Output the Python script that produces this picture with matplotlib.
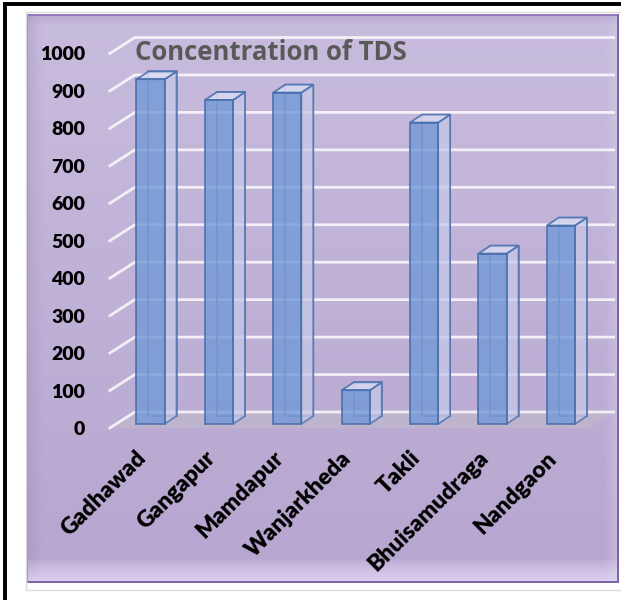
import numpy as np
import matplotlib
matplotlib.use("Agg")
import matplotlib.pyplot as plt
from matplotlib.patches import Polygon, Rectangle

# ---- data ----
categories = ["Gadhawad", "Gangapur", "Mamdapur", "Wanjarkheda", "Takli",
              "Bhuisamudraga", "Nandgaon"]
tds_values = [920, 865, 885, 90, 805, 455, 530]
y_ticks = [0, 100, 200, 300, 400, 500, 600, 700, 800, 900, 1000]
title_text = "Concentration of TDS"

W, H = 621, 600
fig = plt.figure(figsize=(W / 100, H / 100), dpi=100)
fig.patch.set_facecolor("white")

# ---- background panel ----
bg = fig.add_axes([0, 0, 1, 1], zorder=0)
bg.set_xlim(0, W)
bg.set_ylim(H, 0)
bg.axis("off")

px0, py0, px1, py1 = 27, 14, 619, 583
ph, pw = py1 - py0, px1 - px0
t = np.linspace(0, 1, ph)[:, None]
top_c = np.array([200, 188, 221]) / 255
bot_c = np.array([183, 166, 208]) / 255
img = top_c[None, None, :] * (1 - t[..., None]) + bot_c[None, None, :] * t[..., None]
img = np.broadcast_to(img, (ph, pw, 3)).copy()
# left dark bevel
for k in range(16):
    a = (1 - k / 16) * 0.25
    img[:, k] = img[:, k] * (1 - a) + np.array([140, 120, 175]) / 255 * a
# right light bevel
for k in range(14):
    a = (1 - k / 14) * 0.35
    img[:, pw - 1 - k] = img[:, pw - 1 - k] * (1 - a) + np.array([225, 215, 240]) / 255 * a
# top darker band
for k in range(12):
    a = (1 - k / 12) * 0.35
    img[k] = img[k] * (1 - a) + np.array([160, 140, 190]) / 255 * a
# bottom light bevel
for k in range(24):
    a = (1 - k / 24) ** 0.7 * 0.7
    img[ph - 1 - k] = img[ph - 1 - k] * (1 - a) + np.array([236, 226, 252]) / 255 * a
# edges
img[:2] = np.array([150, 120, 190]) / 255
img[-2:] = np.array([125, 100, 165]) / 255
img[:, -2:] = np.array([125, 100, 165]) / 255
img[:, :1] = np.array([170, 150, 200]) / 255
bg.imshow(img, extent=(px0, px1, py1, py0), aspect="auto", zorder=1)

# outer frame lines
bg.add_patch(Rectangle((26, 12), 596, 578, fill=False, ec="#dcdcdc", lw=1, zorder=0.5))
bg.plot([3, W], [4, 4], color="black", lw=2.8, zorder=5, solid_capstyle="butt")
bg.plot([4.5, 4.5], [3, H], color="black", lw=2.8, zorder=5, solid_capstyle="butt")

# ---- main axes (front plane) ----
ax_l, ax_r = 109.8, 588.6
ax_t, ax_b = 53.5, 428
ax = fig.add_axes([ax_l / W, 1 - ax_b / H, (ax_r - ax_l) / W, (ax_b - ax_t) / H], zorder=2)
ax.patch.set_alpha(0)
n = len(categories)
ax.set_xlim(-0.5, n - 0.5)
ax.set_ylim(0, 1000)
for s in ax.spines.values():
    s.set_visible(False)

px_per_cat = (ax_r - ax_l) / n
px_per_val = (ax_b - ax_t) / 1000.0

def off(dx_px, dy_px):
    return dx_px / px_per_cat, dy_px / px_per_val

wall = off(25, 16)
bfront = off(6.5, 4)
bback = off(18.5, 12)

xs = np.arange(n)

# floor
floor = Polygon([(-0.5, 0), (n - 0.5, 0), (n - 0.5 + wall[0], wall[1]),
                 (-0.5 + wall[0], wall[1])], closed=True,
                fc=(0.76, 0.72, 0.80), ec="none", alpha=0.7, zorder=1, clip_on=False)
ax.add_patch(floor)

# gridlines
for v in y_ticks:
    ax.plot([-0.5, -0.5 + wall[0], n - 0.5 + wall[0]], [v, v + wall[1], v + wall[1]],
            color="white", lw=2, alpha=0.8, zorder=1.5, clip_on=False,
            solid_joinstyle="miter")

# bars
bw = 0.41
edge = (0.27, 0.43, 0.68)
face = (0.45, 0.60, 0.84)
ax.bar(xs + bback[0], tds_values, width=bw, bottom=bback[1], color="none",
       edgecolor=edge, lw=1.1, alpha=0.7, zorder=3, clip_on=False)
for i, v in enumerate(tds_values):
    xl = xs[i] - bw / 2 + bfront[0]
    xr = xs[i] + bw / 2 + bfront[0]
    yb = bfront[1]
    yt = v + bfront[1]
    ddx = bback[0] - bfront[0]
    ddy = bback[1] - bfront[1]
    side = Polygon([(xr, yb), (xr, yt), (xr + ddx, yt + ddy), (xr + ddx, yb + ddy)],
                   closed=True, fc=(0.78, 0.78, 0.90), ec=edge, lw=1.3, alpha=0.75,
                   zorder=3.5, clip_on=False)
    ax.add_patch(side)
    top = Polygon([(xl, yt), (xr, yt), (xr + ddx, yt + ddy), (xl + ddx, yt + ddy)],
                  closed=True, fc=(0.85, 0.85, 0.95), ec=edge, lw=1.3, alpha=0.85,
                  zorder=3.6, clip_on=False)
    ax.add_patch(top)
ax.bar(xs + bfront[0], tds_values, width=bw, bottom=bfront[1], color=face,
       alpha=0.8, edgecolor=edge, lw=1.4, zorder=4, clip_on=False)

# ticks
ax.set_yticks(y_ticks)
ax.set_yticklabels([str(v) for v in y_ticks], fontfamily="Lato", fontweight="heavy",
                   fontsize=14, color="black")
ax.tick_params(axis="y", length=0, pad=18)
ax.set_xticks(xs - 0.12)
ax.set_xticklabels(categories, rotation=45, ha="right", rotation_mode="anchor",
                   fontfamily="Lato", fontweight="heavy", fontsize=16.5, color="black")
ax.tick_params(axis="x", length=0, pad=14)

# title
bg.text(135, 53, title_text, fontfamily="Open Sans", fontweight="bold", fontsize=18.5,
        color="#595959", ha="left", va="center", zorder=6)

fig.savefig("out.png", dpi=100)
